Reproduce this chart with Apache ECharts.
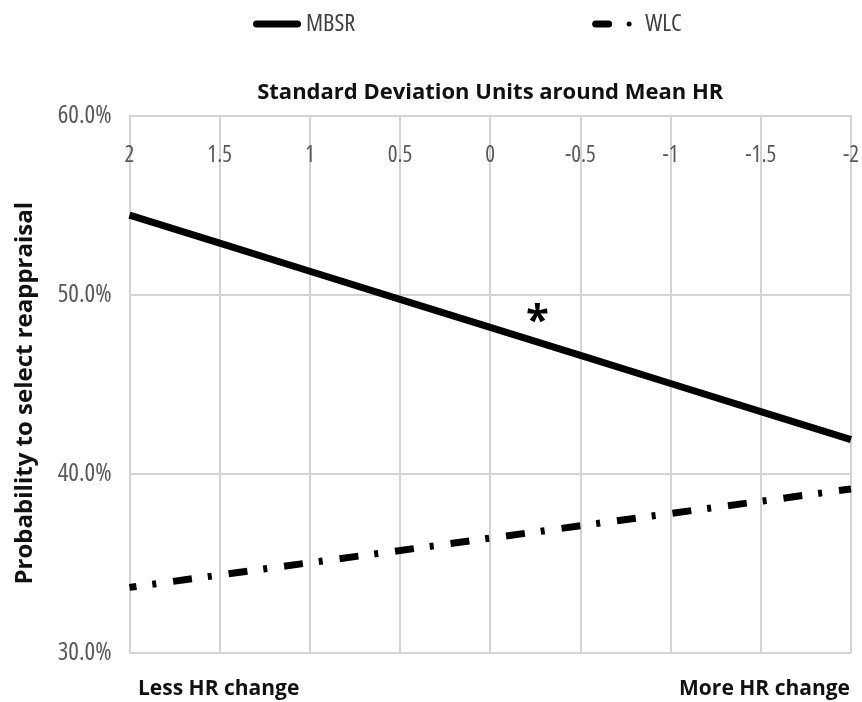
<!DOCTYPE html>
<html><head><meta charset="utf-8">
<script src="https://cdn.jsdelivr.net/npm/echarts@6/dist/echarts.min.js"></script>
<style>html,body{margin:0;padding:0;background:#fff}#c{width:862px;height:702px}</style>
</head><body><div id="c"></div>
<script>
const seriesNames = ['MBSR', 'WLC'];
const xValues = [2, 1.5, 1, 0.5, 0, -0.5, -1, -1.5, -2];
const mbsr = [54.45, 52.88, 51.31, 49.74, 48.17, 46.61, 45.04, 43.47, 41.9];
const wlc = [33.65, 34.34, 35.03, 35.71, 36.4, 37.09, 37.78, 38.46, 39.15];
const asteriskPoint = [-0.25, 49.02];
const xTitle = 'Standard Deviation Units around Mean HR';
const yTitle = 'Probability to select reappraisal';
const leftNote = 'Less HR change';
const rightNote = 'More HR change';

const narrow = '"Open Sans", "Noto Sans", sans-serif';
const bold = '"Open Sans", sans-serif';

const chart = echarts.init(document.getElementById('c'), null, {renderer: 'canvas'});
chart.setOption({
  animation: false,
  backgroundColor: '#fff',
  legend: {
    data: [
      {name: seriesNames[0], icon: 'path://M3.5,0 H44.5 A3.5,3.5 0 0 1 44.5,7 H3.5 A3.5,3.5 0 0 1 3.5,0 Z'},
      {name: seriesNames[1], icon: 'path://M3.5,0 H16.5 A3.5,3.5 0 0 1 16.5,7 H3.5 A3.5,3.5 0 0 1 3.5,0 Z M37,1 A2.5,2.5 0 0 1 37,6 A2.5,2.5 0 0 1 37,1 Z M48,3.5 L48,3.6 Z'}
    ],
    left: 248, top: 7,
    itemWidth: 48, itemHeight: 7, itemGap: 237,
    textStyle: {fontFamily: narrow, fontStyle: 'condensed', fontSize: 24, color: '#404040'}
  },
  grid: {left: 129.5, right: 8.7, top: 115.7, bottom: 49.3},
  xAxis: {
    type: 'value', position: 'top', inverse: true,
    min: -2, max: 2, interval: 0.5,
    name: xTitle, nameLocation: 'middle', nameGap: 12,
    nameTextStyle: {fontFamily: bold, fontWeight: 'bold', fontSize: 22, color: '#111'},
    axisLine: {show: true, lineStyle: {color: '#d4d4d4', width: 2}},
    axisTick: {show: false},
    axisLabel: {inside: true, margin: 28, fontFamily: narrow, fontStyle: 'condensed', fontSize: 23, color: '#595959',
      formatter: v => String(v)},
    splitLine: {show: true, lineStyle: {color: '#d4d4d4', width: 2}}
  },
  yAxis: {
    type: 'value', min: 30, max: 60, interval: 10,
    name: yTitle, nameLocation: 'middle', nameGap: 92, nameRotate: 90,
    nameTextStyle: {fontFamily: bold, fontWeight: 'bold', fontSize: 24, color: '#111', padding: [0, 18, 0, 0]},
    axisLine: {show: true, lineStyle: {color: '#d4d4d4', width: 2}},
    axisTick: {show: false},
    axisLabel: {margin: 18, fontFamily: narrow, fontStyle: 'condensed', fontSize: 25, color: '#595959',
      formatter: v => v.toFixed(1) + '%'},
    splitLine: {show: true, lineStyle: {color: '#d4d4d4', width: 2}}
  },
  series: [
    {
      name: seriesNames[0], type: 'line', symbol: 'none',
      data: xValues.map((x, i) => [x, mbsr[i]]),
      lineStyle: {color: '#000', width: 7},
      itemStyle: {color: '#000'},
      markPoint: {
        symbol: 'circle', symbolSize: 1,
        itemStyle: {color: 'rgba(0,0,0,0)'},
        label: {show: true, formatter: '*', position: 'inside', fontSize: 42, fontWeight: 'bold', fontFamily: bold, color: '#000', offset: [2, 10]},
        data: [{coord: asteriskPoint}]
      }
    },
    {
      name: seriesNames[1], type: 'line', symbol: 'none',
      data: xValues.map((x, i) => [x, wlc[i]]),
      lineStyle: {color: '#000', width: 7, type: [19, 16, 4, 17], dashOffset: 12, cap: 'butt'},
      itemStyle: {color: '#000'}
    }
  ],
  graphic: [
    {type: 'text', left: 138, top: 679, style: {text: leftNote, fontFamily: bold, fontWeight: 'bold', fontSize: 21, fill: '#111'}},
    {type: 'text', right: 12, top: 679, style: {text: rightNote, fontFamily: bold, fontWeight: 'bold', fontSize: 21, fill: '#111'}}
  ]
});
</script></body></html>
